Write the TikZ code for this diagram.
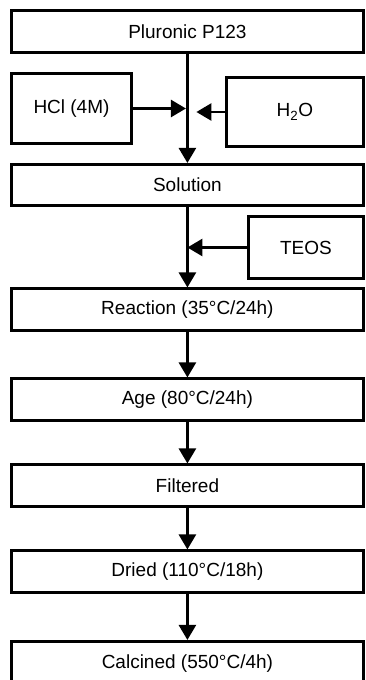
\documentclass[tikz,border=0pt]{standalone}
\usepackage{fontspec}
\setmainfont{Liberation Sans}
\usepackage{tikz}
\usetikzlibrary{arrows.meta,calc,positioning}

\begin{document}
\begin{tikzpicture}[x=1pt,y=-1pt,
    box/.style={draw,line width=2.6pt,minimum width=352.25pt,minimum height=41.5pt,inner sep=0pt,
      font=\fontsize{19}{22}\selectfont},
    sidebox/.style={box,minimum width=#1},
    flow/.style={line width=2.6pt,-{Triangle[length=15pt,width=17pt]}}]
      \clip (0,0) rectangle (365,680);
      \node[box] (pluronic) at (187.4,31.5){Pluronic P123};
      \node[sidebox=120.5pt,minimum height=70.5pt] (hcl) at (71.5,108.5){HCl (4M)};
      \node[sidebox=137.25pt,minimum height=69.5pt] (water) at (294.9,112){H\textsubscript{2}O};
      \node[box] (solution) at (187.4,185){Solution};
      \node[sidebox=115.25pt,minimum height=62.5pt] (teos) at (305.9,247.5){TEOS};
      \node[box] (reaction) at (187.4,309.5){Reaction (35°C/24h)};
      \node[box] (age) at (187.4,399.5){Age (80°C/24h)};
      \node[box] (filtered) at (187.4,485.5){Filtered};
      \node[box] (dried) at (187.4,571.5){Dried (110°C/18h)};
      \node[box,minimum height=44.5pt] (calcined) at (187.4,663.5){Calcined (550°C/4h)};
      \coordinate (mix) at (pluronic.south |- hcl.east);
      \draw[flow] (pluronic) -- (solution);
      \draw[flow] (hcl.east) -- ([xshift=-1.5pt]mix);
      \draw[flow] (water.west) -- ([xshift=9pt]mix |- water.west);
      \draw[flow] (solution) -- (reaction);
      \draw[flow] (teos.west) -- (teos.west -| solution.south);
      \draw[flow] (reaction) -- (age);
      \draw[flow] (age) -- (filtered);
      \draw[flow] (filtered) -- (dried);
      \draw[flow] (dried) -- (calcined);
    \end{tikzpicture}
\end{document}
